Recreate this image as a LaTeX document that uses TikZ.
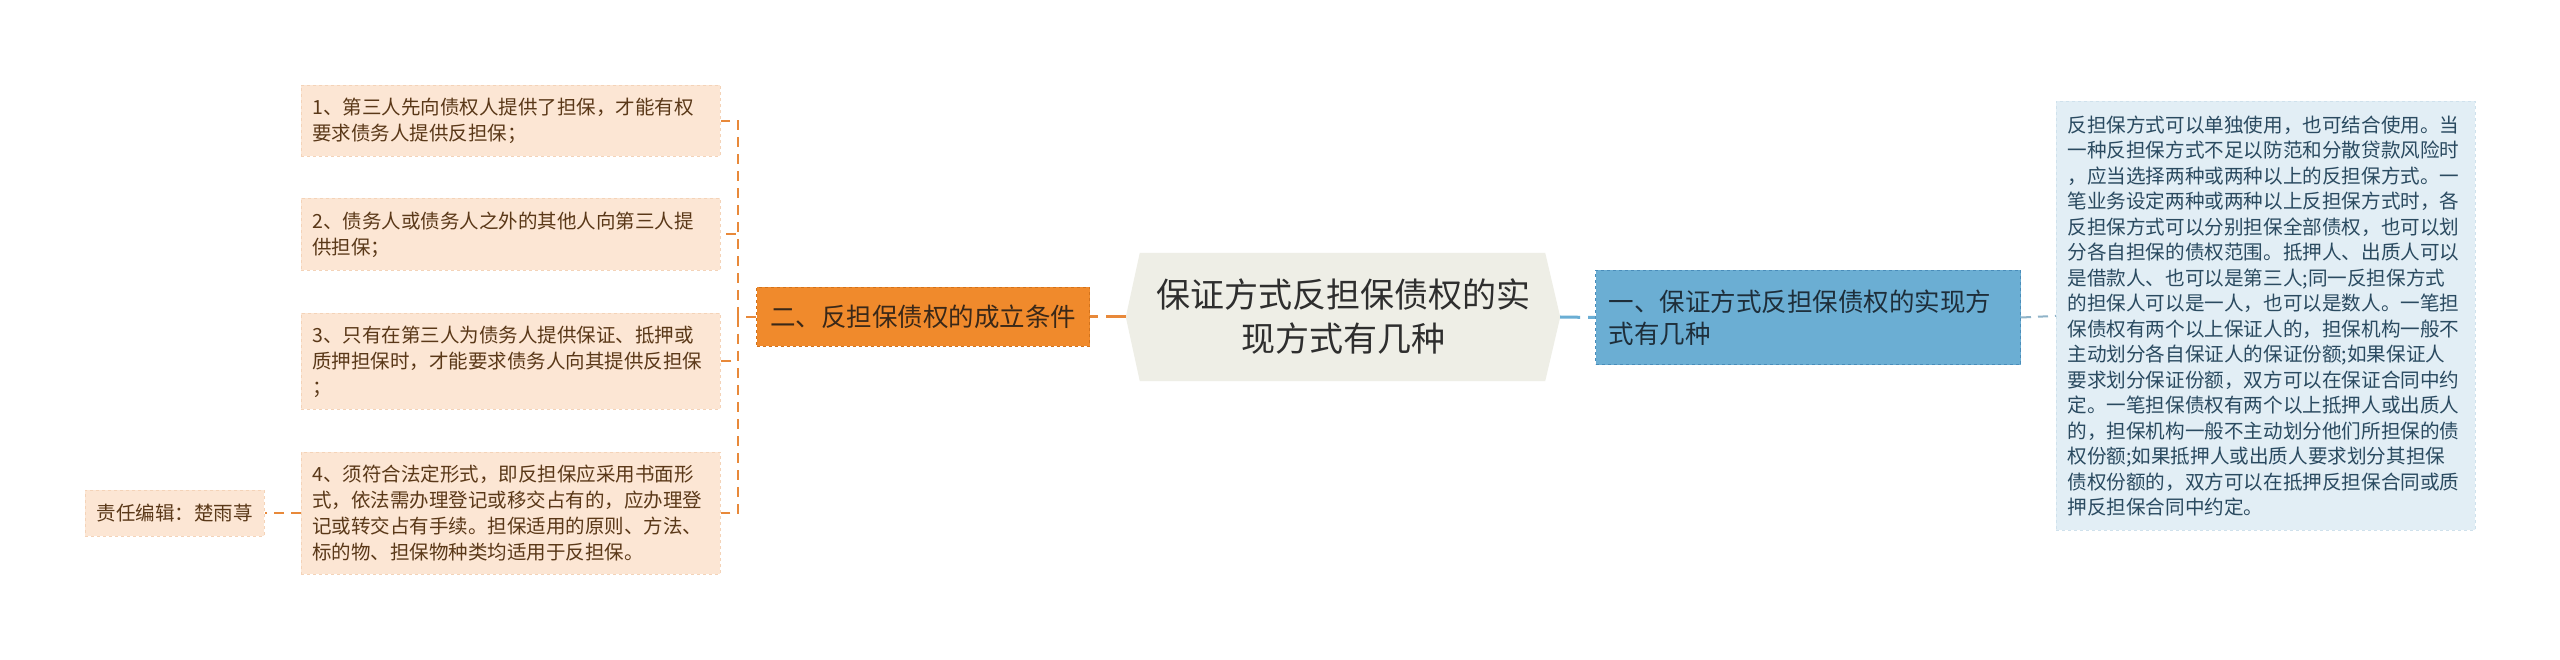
\documentclass[tikz,border=0pt]{standalone}
\usepackage{fontspec}
\setmainfont{Noto Sans CJK SC}
\usetikzlibrary{backgrounds}
\definecolor{leaffill}{HTML}{FCE6D4}
\definecolor{leafdraw}{HTML}{F4D3B8}
\definecolor{leaftext}{HTML}{5A3818}
\definecolor{orangeline}{HTML}{E8893A}
\definecolor{orangefill}{HTML}{F08A2C}
\definecolor{orangedraw}{HTML}{D2731C}
\definecolor{orangetext}{HTML}{3A2818}
\definecolor{rootfill}{HTML}{EEEEE6}
\definecolor{roottext}{HTML}{2E2E2E}
\definecolor{blueline}{HTML}{6AAED4}
\definecolor{bluefill}{HTML}{6BAED3}
\definecolor{bluedraw}{HTML}{4A8DBA}
\definecolor{bluetext}{HTML}{1E2E3A}
\definecolor{notefill}{HTML}{E2EEF5}
\definecolor{notedraw}{HTML}{CFE1EC}
\definecolor{notetext}{HTML}{2A4A60}
\definecolor{greyline}{HTML}{8FB3C8}
\tikzset{
  leafbox/.style={fill=leaffill, draw=leafdraw, dashed, line width=0.8pt, text=leaftext,
    inner xsep=11pt, inner ysep=0pt, text width=397pt, align=left, anchor=north west,
    font=\fontsize{19.5pt}{26pt}\selectfont},
  editorbox/.style={fill=leaffill, draw=leafdraw, dashed, line width=0.8pt, text=leaftext,
    inner sep=0pt, minimum width=179pt, minimum height=46pt, anchor=north west,
    font=\fontsize{19.5pt}{26pt}\selectfont},
  orangebox/.style={fill=orangefill, draw=orangedraw, dashed, line width=1pt, text=orangetext,
    inner sep=0pt, minimum width=333pt, minimum height=59pt, anchor=north west,
    font=\fontsize{25.5pt}{32pt}\selectfont},
  rootbox/.style={inner sep=0pt, minimum width=434pt, minimum height=128pt, text=roottext,
    align=center, font=\fontsize{34pt}{44pt}\selectfont},
  bluebox/.style={fill=bluefill, draw=bluedraw, dashed, line width=1pt, text=bluetext,
    inner xsep=13pt, inner ysep=0pt, text width=399pt, minimum height=94pt, align=left,
    anchor=north west, font=\fontsize{25.5pt}{32pt}\selectfont},
  notebox/.style={fill=notefill, draw=notedraw, dashed, line width=0.8pt, text=notetext,
    inner xsep=11pt, inner ysep=0pt, text width=397pt, minimum height=429pt, align=left,
    anchor=north west, font=\fontsize{19.6pt}{25.5pt}\selectfont},
  oconn/.style={draw=orangeline, line width=2pt, dash pattern=on 10pt off 7pt},
  oconnthick/.style={draw=orangeline, line width=3pt, dash pattern=on 20pt off 8pt},
  bconn/.style={draw=blueline, line width=3pt, dash pattern=on 20pt off 8pt},
  gconn/.style={draw=greyline, line width=2pt, dash pattern=on 10pt off 7pt},
}
\begin{document}
\begin{tikzpicture}[x=1pt, y=-1pt]
\useasboundingbox (0,0) rectangle (2560,660);

% leaves
\node[leafbox, minimum height=71pt] (l1) at (301,85)
  {1、第三人先向债权人提供了担保，才能有权\\要求债务人提供反担保；};
\node[leafbox, minimum height=72pt] (l2) at (301,198)
  {2、债务人或债务人之外的其他人向第三人提\\供担保；};
\node[leafbox, minimum height=96pt] (l3) at (301,313)
  {3、只有在第三人为债务人提供保证、抵押或\\质押担保时，才能要求债务人向其提供反担保\\；};
\node[leafbox, minimum height=122pt] (l4) at (301,452)
  {4、须符合法定形式，即反担保应采用书面形\\式，依法需办理登记或移交占有的，应办理登\\记或转交占有手续。担保适用的原则、方法、\\标的物、担保物种类均适用于反担保。};
\node[editorbox] (ed) at (85,490) {责任编辑：楚雨荨};

% orange branch
\node[orangebox] (ob) at (756,287) {二、反担保债权的成立条件};

% root
\node[rootbox] (root) at (1343,317) {保证方式反担保债权的实\\现方式有几种};
\begin{scope}[on background layer]
\fill[white] (0,0) rectangle (2560,660);
\fill[rootfill] (root.west) -- ([xshift=14pt]root.north west) -- ([xshift=-15pt]root.north east)
  -- (root.east) -- ([xshift=-15pt]root.south east) -- ([xshift=14pt]root.south west) -- cycle;
\end{scope}

% blue branch
\node[bluebox] (bb) at (1595,270) {一、保证方式反担保债权的实现方\\式有几种};

% note
\node[notebox] (nt) at (2056,101)
  {反担保方式可以单独使用，也可结合使用。当\\
   一种反担保方式不足以防范和分散贷款风险时\\
   ，应当选择两种或两种以上的反担保方式。一\\
   笔业务设定两种或两种以上反担保方式时，各\\
   反担保方式可以分别担保全部债权，也可以划\\
   分各自担保的债权范围。抵押人、出质人可以\\
   是借款人、也可以是第三人;同一反担保方式\\
   的担保人可以是一人，也可以是数人。一笔担\\
   保债权有两个以上保证人的，担保机构一般不\\
   主动划分各自保证人的保证份额;如果保证人\\
   要求划分保证份额，双方可以在保证合同中约\\
   定。一笔担保债权有两个以上抵押人或出质人\\
   的，担保机构一般不主动划分他们所担保的债\\
   权份额;如果抵押人或出质人要求划分其担保\\
   债权份额的，双方可以在抵押反担保合同或质\\
   押反担保合同中约定。};

% connectors
\coordinate (trunk) at (738,317);
\draw[oconnthick] (root.west) -- (ob.east);
\draw[oconn] (ob.west) -- (trunk);
\draw[oconn] (trunk) |- (l1.east);
\draw[oconn] (trunk) |- (l2.east);
\draw[oconn] (trunk) |- (l3.east);
\draw[oconn] (trunk) |- (l4.east);
\draw[oconn] (l4.west) -- (ed.east);
\draw[bconn] (root.east) -- (bb.west);
\draw[gconn] (bb.east) -- (nt.west);
\end{tikzpicture}
\end{document}
